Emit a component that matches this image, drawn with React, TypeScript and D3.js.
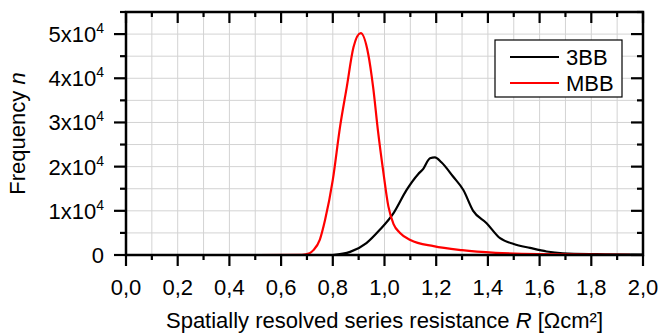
import React, { useEffect, useRef } from "react";
import * as d3 from "d3";

// resistance R [Ωcm²] and frequency n for the two samples
const rMBB = [0.2, 0.5, 0.68, 0.71, 0.725, 0.75, 0.77, 0.8, 0.828, 0.854, 0.88, 0.908, 0.937, 0.956, 0.975, 0.995, 1.015, 1.035, 1.06, 1.1, 1.19, 1.3, 1.43, 1.6, 1.8, 1.95];
const nMBB = [0, 0, 50, 400, 1100, 3500, 7900, 17000, 29000, 38000, 47000, 50200, 45500, 38000, 28000, 19000, 11000, 7000, 5000, 3400, 2000, 1100, 500, 200, 100, 50];

const r3BB = [0.8, 0.867, 0.93, 0.98, 1.035, 1.085, 1.13, 1.15, 1.176, 1.195, 1.22, 1.266, 1.305, 1.343, 1.395, 1.447, 1.5, 1.563, 1.627, 1.69, 1.82, 2.0];
const n3BB = [0, 700, 2700, 5600, 9500, 14700, 18300, 19500, 21900, 22100, 21000, 17700, 14700, 10000, 7200, 3800, 2500, 1600, 800, 400, 200, 100];

const xTicks = [0, 0.2, 0.4, 0.6, 0.8, 1.0, 1.2, 1.4, 1.6, 1.8, 2.0];
const yTicks = [0, 10000, 20000, 30000, 40000, 50000];
const seriesNames = ["3BB", "MBB"];
const seriesColors = ["#000000", "#ff0000"];

const FONT = "'Liberation Sans', Arial, sans-serif";
const FS = "22px";

const Chart: React.FC = () => {
  const ref = useRef<SVGSVGElement | null>(null);

  useEffect(() => {
    if (ref.current) draw();
  }, []);

  const draw = () => {
    const width = 659;
    const height = 334;
    const left = 126, right = 643, top = 12, bottom = 255;

    const svg = d3.select(ref.current).attr("width", width).attr("height", height);
    svg.selectAll("*").remove();

    const x = d3.scaleLinear().domain([0, 2]).range([left, right]);
    const y = d3.scaleLinear().domain([0, 55000]).range([bottom, top]);

    const minorX = d3.range(0, 2.0001, 0.1);
    const minorY = d3.range(0, 55001, 5000);

    // grid
    const grid = svg.append("g").attr("stroke", "#d3d3d3").attr("stroke-width", 1);
    minorX.forEach((v) => {
      grid.append("line").attr("x1", x(v)).attr("x2", x(v)).attr("y1", top).attr("y2", bottom);
    });
    minorY.forEach((v) => {
      grid.append("line").attr("x1", left).attr("x2", right).attr("y1", y(v)).attr("y2", y(v));
    });

    // curves
    const line = d3
      .line<[number, number]>()
      .x((d) => x(d[0]))
      .y((d) => y(d[1]))
      .curve(d3.curveMonotoneX);

    const series = [
      d3.zip(r3BB, n3BB) as [number, number][],
      d3.zip(rMBB, nMBB) as [number, number][],
    ];
    series.forEach((s, i) => {
      svg
        .append("path")
        .datum(s)
        .attr("fill", "none")
        .attr("stroke", seriesColors[i])
        .attr("stroke-width", 2.2)
        .attr("stroke-linejoin", "round")
        .attr("d", line);
    });

    // frame
    svg
      .append("rect")
      .attr("x", left)
      .attr("y", top)
      .attr("width", right - left)
      .attr("height", bottom - top)
      .attr("fill", "none")
      .attr("stroke", "#000")
      .attr("stroke-width", 2.5);

    const ticks = svg.append("g").attr("stroke", "#000").attr("stroke-width", 2.2);
    minorX.forEach((v, i) => {
      const len = i % 2 === 0 ? 11 : 5;
      ticks.append("line").attr("x1", x(v)).attr("x2", x(v)).attr("y1", bottom).attr("y2", bottom + len);
      ticks.append("line").attr("x1", x(v)).attr("x2", x(v)).attr("y1", top).attr("y2", top + len);
    });
    minorY.forEach((v, i) => {
      const len = i % 2 === 0 ? 12 : 6;
      ticks.append("line").attr("x1", left - len).attr("x2", left).attr("y1", y(v)).attr("y2", y(v));
      ticks.append("line").attr("x1", right - len).attr("x2", right).attr("y1", y(v)).attr("y2", y(v));
    });

    // x tick labels
    svg
      .append("g")
      .selectAll("text")
      .data(xTicks)
      .join("text")
      .attr("x", (d) => x(d))
      .attr("y", 295)
      .attr("text-anchor", "middle")
      .style("font-family", FONT)
      .style("font-size", FS)
      .text((d) => d3.format(".1f")(d).replace(".", ","));

    // y tick labels
    yTicks.forEach((v) => {
      const t = svg
        .append("text")
        .attr("x", 104)
        .attr("y", y(v) + 8)
        .attr("text-anchor", "end")
        .style("font-family", FONT)
        .style("font-size", FS);
      if (v === 0) {
        t.text("0");
      } else {
        t.append("tspan").text(`${v / 10000}x10`);
        t.append("tspan").attr("dy", -9).style("font-size", "14px").text("4");
      }
    });

    // axis titles
    const xt = svg
      .append("text")
      .attr("x", (left + right) / 2)
      .attr("y", 328)
      .attr("text-anchor", "middle")
      .style("font-family", FONT)
      .style("font-size", FS);
    xt.append("tspan").text("Spatially resolved series resistance ");
    xt.append("tspan").style("font-style", "italic").text("R");
    xt.append("tspan").text(" [Ωcm²]");

    const yt = svg
      .append("text")
      .attr("transform", `translate(25,${(top + bottom) / 2}) rotate(-90)`)
      .attr("text-anchor", "middle")
      .style("font-family", FONT)
      .style("font-size", FS);
    yt.append("tspan").text("Frequency ");
    yt.append("tspan").style("font-style", "italic").text("n");

    // legend
    const lg = svg.append("g");
    lg.append("rect")
      .attr("x", 495)
      .attr("y", 40)
      .attr("width", 127)
      .attr("height", 57)
      .attr("fill", "#fff")
      .attr("stroke", "#000")
      .attr("stroke-width", 1.2);
    seriesNames.forEach((name, i) => {
      const ly = 57 + i * 26;
      lg.append("line")
        .attr("x1", 510)
        .attr("x2", 559)
        .attr("y1", ly)
        .attr("y2", ly)
        .attr("stroke", seriesColors[i])
        .attr("stroke-width", 2.2);
      lg.append("text")
        .attr("x", 566)
        .attr("y", ly + 8)
        .style("font-family", FONT)
        .style("font-size", FS)
        .text(name);
    });
  };

  return <svg ref={ref}></svg>;
};

export default function App() {
  return (
    <div style={{ position: "absolute", left: 0, top: 0 }}>
      <Chart />
    </div>
  );
}
